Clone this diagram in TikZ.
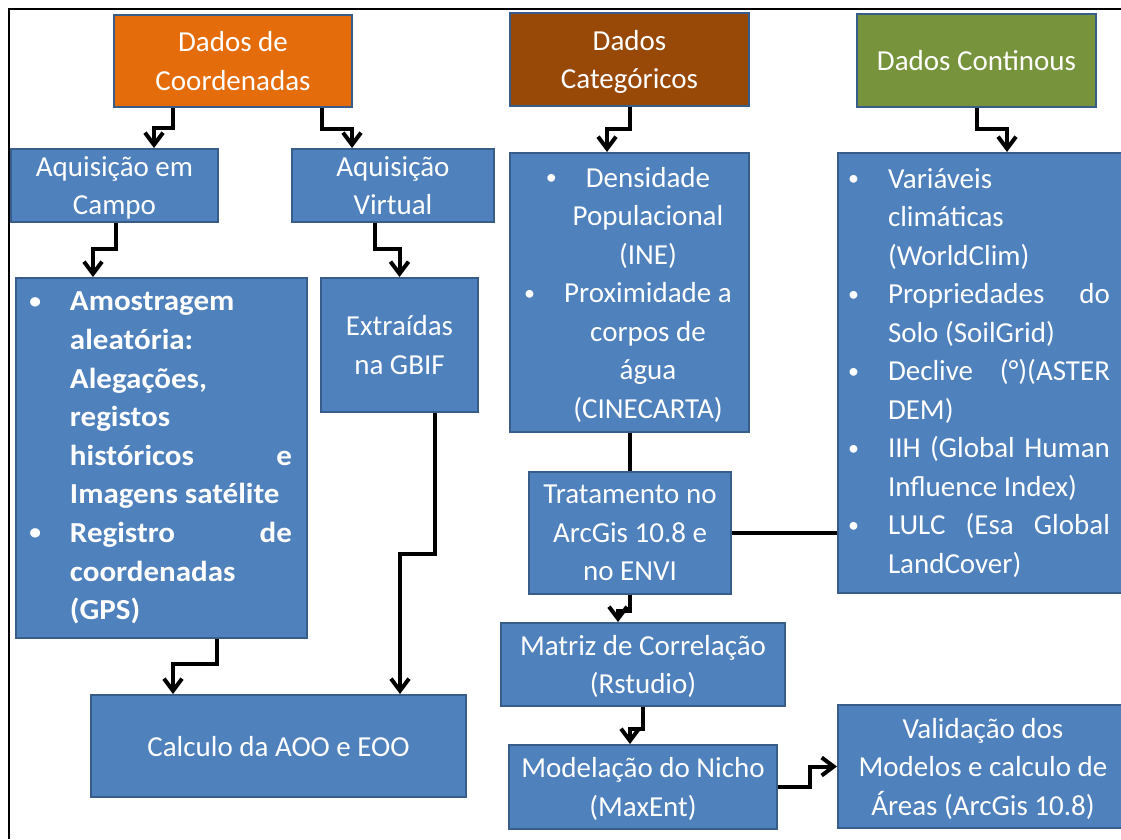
\documentclass[tikz,border=0pt]{standalone}
\usepackage{fontspec}
\setmainfont{Carlito}
\newfontfamily\amofont{Carlito}[FakeStretch=1.07]
\usetikzlibrary{calc,arrows.meta,positioning}
\definecolor{boxblue}{HTML}{4F81BD}
\definecolor{boxline}{HTML}{385D8A}
\definecolor{coordfill}{HTML}{E46C0A}
\definecolor{catfill}{HTML}{984807}
\definecolor{contfill}{HTML}{77933C}
\newcommand{\bul}{\llap{\raisebox{2.5pt}{\fontsize{22}{22}\selectfont\textbullet}\hspace{29pt}}}

\begin{document}
\begin{tikzpicture}[x=1pt,y=-1pt,
  box/.style={draw=boxline, line width=2pt, fill=boxblue, text=white,
    inner sep=0pt, align=center, font=\fontsize{29}{38.5}\selectfont, text depth=0pt},
  listbox/.style={box, align=flush left, text depth={}},
  conn/.style={line width=4pt, -{Straight Barb[length=12pt,width=18pt]}},
  link/.style={line width=4pt}]

    \useasboundingbox (0,0) rectangle (1121,839);
    \draw[line width=2pt] (9,839) -- (9,9) -- (1121,9);

    % top row
    \node[box, fill=coordfill, minimum width=238pt, minimum height=92pt] (dc) at (233,61) {Dados de\\Coordenadas};
    \node[box, fill=catfill, minimum width=239pt, minimum height=93pt] (cat) at (629.5,59.5) {Dados\\Categóricos};
    \node[box, fill=contfill, minimum width=239pt, minimum height=93pt] (cont) at (976.5,60.5) {Dados Continous};

    \node[box, minimum width=207pt, minimum height=73pt] (aec) at (114.5,185.5) {Aquisição em\\Campo};
    \node[box, minimum width=202pt, minimum height=73pt] (av) at (393,185.5) {Aquisição\\Virtual};

    \node[box, minimum width=239pt, minimum height=279pt] (dens) at (629.5,292.5)
      {\hspace*{37pt}\bul Densidade\\ \hspace*{37pt}Populacional\\ \hspace*{37pt}(INE)\\
       \hspace*{37pt}\bul Proximidade a\\ \hspace*{37pt}corpos de\\ \hspace*{37pt}água\\
       \hspace*{37pt}(CINECARTA)};

    \node[listbox, minimum height=440pt, text width=297pt] (var) at (986.5,373)
      {\hspace*{50pt}\bul Variáveis\\
       \hspace*{50pt}climáticas\\
       \hspace*{50pt}(WorldClim)\\
       \hspace*{50pt}\bul\makebox[222pt][l]{Propriedades\hfill do}\\
       \hspace*{50pt}Solo (SoilGrid)\\
       \hspace*{50pt}\bul\makebox[222pt][l]{Declive\hfill (°)(ASTER}\\
       \hspace*{50pt}DEM)\\
       \hspace*{50pt}\bul\makebox[222pt][l]{IIH\hfill (Global\hfill Human}\\
       \hspace*{50pt}Influence Index)\\
       \hspace*{50pt}\bul\makebox[222pt][l]{LULC\hfill (Esa\hfill Global}\\
       \hspace*{50pt}LandCover)};

    \node[listbox, minimum height=360pt, text width=291pt,
      font=\amofont\bfseries\fontsize{29}{38.6}\selectfont] (amo) at (161.5,458)
      {\hspace*{54pt}\bul Amostragem\\
       \hspace*{54pt}aleatória:\\
       \hspace*{54pt}Alegações,\\
       \hspace*{54pt}registos\\
       \hspace*{54pt}\makebox[222pt][l]{históricos\hfill e}\\
       \hspace*{54pt}Imagens satélite\\
       \hspace*{54pt}\bul\makebox[222pt][l]{Registro\hfill de}\\
       \hspace*{54pt}coordenadas\\
       \hspace*{54pt}(GPS)};

    \node[box, minimum width=157pt, minimum height=134pt] (ext) at (399.5,345) {Extraídas\\na GBIF};

    \node[box, minimum width=202pt, minimum height=122pt] (trat) at (630,533) {Tratamento no\\ArcGis 10.8 e\\no ENVI};
    \node[box, minimum width=284pt, minimum height=83pt] (mat) at (643,664.5) {Matriz de Correlação\\(Rstudio)};
    \node[box, minimum width=268pt, minimum height=84pt] (mod) at (643,787) {Modelação do Nicho\\(MaxEnt)};
    \node[box, minimum width=290pt, minimum height=123pt] (val) at (983,766.5) {Validação dos\\Modelos e calculo de\\Áreas (ArcGis 10.8)};
    \node[box, minimum width=375pt, minimum height=102pt] (calc) at (278.5,746) {Calculo da AOO e EOO};

    % connectors
    \draw[conn] ([xshift=-60pt]dc.south) -- ++(0,20) -| ([xshift=39.5pt]aec.north);
    \draw[conn] ([xshift=89pt]dc.south) -- ++(0,21) -| ([xshift=-41pt]av.north);
    \draw[conn] ([xshift=1.5pt]aec.south) -- ++(0,26) -| ([xshift=-68.5pt]amo.north);
    \draw[conn] ([xshift=-18pt]av.south) -- ++(0,26) -| (ext.north);
    \draw[conn] (cat.south) -- ++(0,22) -| ([xshift=-22.5pt]dens.north);
    \draw[conn] (cont.south) -- ++(0,21) -| ([xshift=20.5pt]var.north);
    \draw[link] (dens.south) -- (dens.south |- trat.north);
    \draw[link] (trat.east) -- (trat.east -| var.west);
    \draw[conn] (trat.south) -- ++(0,16) -| ([xshift=-25pt]mat.north);
    \draw[conn] (mat.south) -- ++(0,22) -| ([xshift=-13pt]mod.north);
    \draw[conn] (mod.east) -- ++(32,0) |- (val.west);
    \draw[conn] ([xshift=55.5pt]amo.south) -- ++(0,25) -| ([xshift=-105.5pt]calc.north);
    \draw[conn] ([xshift=35.5pt]ext.south) -- ++(0,141) -| ([xshift=121.5pt]calc.north);

\end{tikzpicture}
\end{document}
